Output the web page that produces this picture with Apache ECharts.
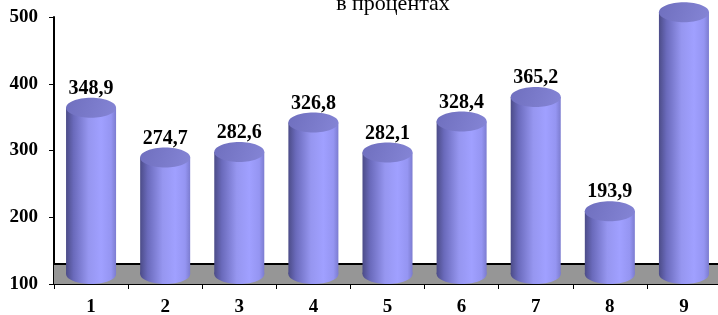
<!DOCTYPE html>
<html>
<head>
<meta charset="utf-8">
<script src="https://cdn.jsdelivr.net/npm/echarts@6/dist/echarts.min.js"></script>
<style>
html,body{margin:0;padding:0;background:#fff;}
#chart{width:718px;height:315px;}
</style>
</head>
<body>
<div id="chart"></div>
<script>
var categories=['1','2','3','4','5','6','7','8','9'];
var values=[348.9,274.7,282.6,326.8,282.1,328.4,365.2,193.9,492];
var showLabel=[true,true,true,true,true,true,true,true,false];
var yTicks={min:100,max:500,interval:100};
var floorTop=130;
var titleText='в процентах';

var serif='"Liberation Serif","Times New Roman",serif';
var myChart=echarts.init(document.getElementById('chart'));

function fmt(v){ return v.toFixed(1).replace('.',','); }

// цилиндр: корпус + нижний эллипс + верхний эллипс
function renderCylinder(params,api){
    var top=api.coord([api.value(0),api.value(1)]);
    var base=api.coord([api.value(0),yTicks.min]);
    var bw=api.size([1,0])[0]*0.675;
    var rx=bw/2, ry=10;
    var x0=top[0]-rx;
    var body=new echarts.graphic.LinearGradient(0,0,1,0,[
        {offset:0,color:'#4c4c88'},
        {offset:0.15,color:'#6a6abb'},
        {offset:0.45,color:'#9696f0'},
        {offset:0.7,color:'#a0a0ff'},
        {offset:0.9,color:'#9595f2'},
        {offset:1,color:'#7c7cd0'}
    ]);
    var cap=new echarts.graphic.LinearGradient(0,0,1,1,[
        {offset:0,color:'#6f6fbe'},
        {offset:1,color:'#8585d6'}
    ]);
    return {
        type:'group',
        children:[
            {type:'ellipse',shape:{cx:top[0],cy:base[1]-ry,rx:rx,ry:ry},style:{fill:body}},
            {type:'rect',shape:{x:x0,y:top[1]-ry,width:bw,height:base[1]-top[1]},style:{fill:body}},
            {type:'ellipse',shape:{cx:top[0],cy:top[1]-ry,rx:rx,ry:ry},style:{fill:cap}}
        ]
    };
}

var option={
    animation:false,
    title:{
        text:titleText,
        left:388,
        textAlign:'center',
        top:-12,
        textStyle:{fontFamily:serif,fontSize:22,fontWeight:'normal',color:'#000'}
    },
    grid:{left:54,right:-3,top:17,bottom:31,outerBoundsMode:'none',containLabel:false},
    xAxis:{
        type:'category',
        data:categories,
        axisLine:{lineStyle:{color:'#000',width:2}},
        axisTick:{show:true,length:5,lineStyle:{color:'#000',width:1}},
        axisLabel:{fontFamily:serif,fontSize:19,fontWeight:'bold',color:'#000',margin:14}
    },
    yAxis:{
        type:'value',
        min:yTicks.min,max:yTicks.max,interval:yTicks.interval,
        axisLine:{show:true,lineStyle:{color:'#000',width:2}},
        axisTick:{show:true,length:5,lineStyle:{color:'#000',width:1}},
        splitLine:{show:false},
        axisLabel:{fontFamily:serif,fontSize:19,fontWeight:'bold',color:'#000',margin:16}
    },
    series:[
        {
            type:'bar',
            barWidth:50,
            z:1,
            itemStyle:{color:'rgba(0,0,0,0)'},
            data:values.map(function(v,i){
                return {value:v,label:{show:showLabel[i]}};
            }),
            label:{
                show:true,position:'top',distance:19,
                fontFamily:serif,fontSize:20,fontWeight:'bold',color:'#000',
                formatter:function(p){ return fmt(p.value); }
            },
            markArea:{
                silent:true,
                itemStyle:{color:'#969696'},
                data:[[{yAxis:yTicks.min},{yAxis:floorTop}]]
            },
            markLine:{
                silent:true,symbol:'none',
                label:{show:false},
                lineStyle:{color:'#000',width:2,type:'solid'},
                data:[{yAxis:floorTop}]
            }
        },
        {
            type:'custom',
            z:5,
            renderItem:renderCylinder,
            encode:{x:0,y:1},
            data:values.map(function(v,i){ return [i,v]; })
        }
    ]
};
myChart.setOption(option);
</script>
</body>
</html>
